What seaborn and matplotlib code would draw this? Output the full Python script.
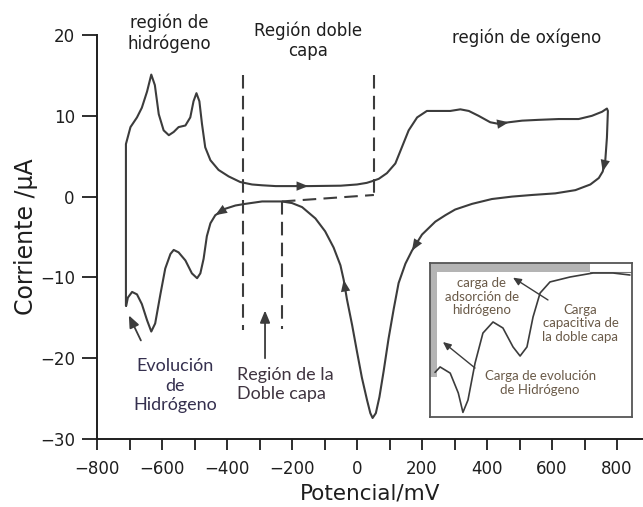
import numpy as np
import pandas as pd
import matplotlib
matplotlib.use("Agg")
import matplotlib.pyplot as plt
from matplotlib.patches import Rectangle
from matplotlib.ticker import MultipleLocator
import seaborn as sns

# ---------------- data ----------------
# anodic sweep (upper branch), left -> right  (mV, uA)
anodic_mv = [-711, -711, -697, -677, -662, -646, -633, -622, -610, -595, -579, -564,
             -549, -528, -513, -503, -494, -485, -477, -467, -451, -426, -395, -359,
             -323, -292, -250, -150, -50, 0, 30, 46, 67, 92, 118, 138, 159, 185, 215,
             251, 287, 318, 344, 374, 410, 436, 467, 508, 559, 621, 682, 723, 754, 769, 772]
anodic_ua = [-13.5, 6.5, 8.6, 9.8, 11.0, 13.0, 15.1, 13.8, 10.2, 8.2, 7.6, 8.0,
             8.6, 8.8, 9.8, 11.8, 12.8, 11.8, 9.0, 6.1, 4.5, 3.3, 2.5, 1.8,
             1.5, 1.4, 1.3, 1.3, 1.35, 1.5, 1.7, 1.9, 2.2, 2.9, 4.1, 6.1, 8.2, 9.8, 10.6,
             10.6, 10.6, 10.8, 10.6, 10.0, 9.2, 9.0, 9.2, 9.4, 9.5, 9.6, 9.6, 10.0, 10.5, 10.9, 10.6]

# cathodic sweep (lower branch), right -> left
cathodic_mv = [769, 764, 756, 744, 718, 672, 610, 538, 477, 415, 354, 302, 272, 241, 200,
               169, 149, 128, 113, 97, 82, 69, 58, 48, 41, 31, 15, 0, -15, -31, -41, -51,
               -72, -98, -128, -169, -200, -231, -292, -344, -374, -405, -436, -451, -462,
               -472, -482, -492, -508, -528, -549, -564, -574, -590, -605, -621, -633,
               -646, -662, -677, -692, -705, -710]
cathodic_ua = [7.3, 4.5, 3.1, 2.3, 1.5, 0.8, 0.4, 0.2, 0.0, -0.3, -0.9, -1.6, -2.3, -3.1, -4.7,
               -6.7, -8.3, -10.7, -13.9, -17.6, -21.6, -24.8, -26.8, -27.4, -26.8, -25.2, -22.4,
               -19.2, -15.9, -12.7, -10.3, -8.5, -6.3, -4.3, -2.7, -1.3, -0.8, -0.6, -0.6, -0.9,
               -1.1, -1.5, -2.3, -3.3, -4.9, -7.7, -9.5, -10.1, -9.5, -7.9, -6.9, -6.6, -7.1,
               -8.9, -12.1, -15.7, -16.7, -15.3, -13.3, -12.1, -11.8, -12.5, -13.5]

# inset sketch (normalised units)
inset_x = [0.025, 0.05, 0.10, 0.14, 0.163, 0.188, 0.223, 0.262, 0.312, 0.361, 0.411,
           0.446, 0.48, 0.51, 0.545, 0.594, 0.693, 0.807, 0.906, 0.99]
inset_y = [0.29, 0.325, 0.285, 0.156, 0.03, 0.11, 0.35, 0.545, 0.617, 0.578, 0.455,
           0.396, 0.455, 0.649, 0.805, 0.877, 0.909, 0.935, 0.935, 0.922]

x_ticks = [-800, -600, -400, -200, 0, 200, 400, 600, 800]
y_ticks = [-30, -20, -10, 0, 10, 20]

# region boundaries (mV) for the dashed guides
dl_left, dl_mid, dl_right = -350, -231, 52

# ---------------- style ----------------
sns.set_theme(style="ticks")
plt.rcParams["font.family"] = ["DejaVu Sans"]
LINE = "#3c3c3c"
INK = "#1e1e1e"

fig = plt.figure(figsize=(6.43, 5.07), dpi=100)
ax = fig.add_axes([97 / 643, (507 - 439) / 507, 546 / 643, 404 / 507])

df = pd.DataFrame({
    "mV": anodic_mv + cathodic_mv,
    "uA": anodic_ua + cathodic_ua,
})
sns.lineplot(data=df, x="mV", y="uA", sort=False, estimator=None,
             color=LINE, lw=1.5, ax=ax)

ax.set_xlim(-800, 880)
ax.set_ylim(-30, 20)
ax.set_xticks(x_ticks)
ax.xaxis.set_minor_locator(MultipleLocator(100))
ax.set_yticks(y_ticks)
for s in ["top", "right"]:
    ax.spines[s].set_visible(False)
for s in ["left", "bottom"]:
    ax.spines[s].set_color(INK)
    ax.spines[s].set_linewidth(1.4)
ax.tick_params(axis="x", which="both", length=8, width=1.3, color=INK, pad=7,
               labelsize=12, labelcolor=INK)
ax.tick_params(axis="y", which="both", length=11, width=1.3, color=INK, pad=5,
               labelsize=12, labelcolor=INK)
ax.set_xlabel("Potencial/mV", fontsize=15.5, color=INK, labelpad=4)
ax.set_ylabel("Corriente /\u00b5A", fontsize=17, color=INK, labelpad=1)


# direction arrowheads placed on the curve
def head(xs, ys, i):
    ax.annotate("", xy=(xs[i + 1], ys[i + 1]), xytext=(xs[i], ys[i]),
                arrowprops=dict(arrowstyle="-|>,head_length=0.7,head_width=0.28",
                                color=LINE, lw=0.01, shrinkA=0, shrinkB=0))


head(anodic_mv, anodic_ua, anodic_mv.index(-250))
head(anodic_mv, anodic_ua, anodic_mv.index(436))
head(cathodic_mv, cathodic_ua, cathodic_mv.index(764))
head(cathodic_mv, cathodic_ua, cathodic_mv.index(200))
head(cathodic_mv, cathodic_ua, cathodic_mv.index(-31))
head(cathodic_mv, cathodic_ua, cathodic_mv.index(-405))

# dashed guides
dash = dict(color=LINE, lw=1.5, ls=(0, (6.5, 3.5)))
ax.plot([dl_left, dl_left], [15, -16.5], **dash)
ax.plot([dl_mid, dl_mid], [-0.6, -16.4], **dash)
ax.plot([dl_right, dl_right], [15, 0.2], **dash)
ax.plot([dl_mid, dl_right], [-0.6, 0.2], **dash)

# region titles
ax.text(-578, 20.2, "región de\nhidrógeno", ha="center", va="center", fontsize=12,
        color=INK, linespacing=1.15, clip_on=False)
ax.text(-150, 19.3, "Región doble\ncapa", ha="center", va="center", fontsize=12,
        color=INK, linespacing=1.15, clip_on=False)
ax.text(522, 19.6, "región de oxígeno", ha="center", va="center", fontsize=12,
        color=INK, clip_on=False)

# lower annotations
ann_col = "#35304f"
ax.text(-560, -23.4, "Evolución\nde\nHidrógeno", ha="center", va="center",
        fontsize=13, family="Lato", color=ann_col, linespacing=1.25)
ax.annotate("", xy=(-702, -14.7), xytext=(-665, -17.8),
            arrowprops=dict(arrowstyle="-|>,head_length=0.6,head_width=0.25",
                            color=LINE, lw=1.3, shrinkA=0, shrinkB=0))
ax.text(-368, -23.3, "Región de la\nDoble capa", ha="left", va="center",
        fontsize=13, family="Lato", color="#3f3440", linespacing=1.25)
ax.annotate("", xy=(-283, -14.1), xytext=(-283, -20),
            arrowprops=dict(arrowstyle="-|>,head_length=0.6,head_width=0.25",
                            color=LINE, lw=1.3, shrinkA=0, shrinkB=0))

# ---------------- inset ----------------
inax = fig.add_axes([430 / 643, (507 - 417) / 507, 202 / 643, 154 / 507])
inax.set_xlim(0, 1)
inax.set_ylim(0, 1)
inax.set_xticks([])
inax.set_yticks([])
for s in inax.spines.values():
    s.set_color("#555555")
    s.set_linewidth(1.3)
inax.add_patch(Rectangle((0, 0.94), 0.79, 0.06, color="#b4b4b4", lw=0))
inax.add_patch(Rectangle((0, 0.26), 0.035, 0.74, color="#b4b4b4", lw=0))
inax.plot([0.79, 1.0], [0.94, 0.94], color="#777777", lw=0.8)
sns.lineplot(x=inset_x, y=inset_y, sort=False, estimator=None, color=LINE,
             lw=1.2, ax=inax)
in_col = "#6a5a48"
inax.text(0.257, 0.78, "carga de\nadsorción de\nhidrógeno", ha="center", va="center",
          fontsize=9.5, family="Lato", color=in_col, linespacing=1.15)
inax.text(0.745, 0.61, "Carga\ncapacitiva de\nla doble capa", ha="center", va="center",
          fontsize=9.5, family="Lato", color=in_col, linespacing=1.15)
inax.text(0.545, 0.22, "Carga de evolución\nde Hidrógeno", ha="center", va="center",
          fontsize=9.5, family="Lato", color=in_col, linespacing=1.15)
inax.annotate("", xy=(0.411, 0.905), xytext=(0.584, 0.76),
              arrowprops=dict(arrowstyle="-|>,head_length=0.4,head_width=0.18",
                              color=LINE, lw=1.0, shrinkA=0, shrinkB=0))
inax.annotate("", xy=(0.064, 0.487), xytext=(0.223, 0.318),
              arrowprops=dict(arrowstyle="-|>,head_length=0.4,head_width=0.18",
                              color=LINE, lw=1.0, shrinkA=0, shrinkB=0))

fig.savefig("out.png", dpi=100)
